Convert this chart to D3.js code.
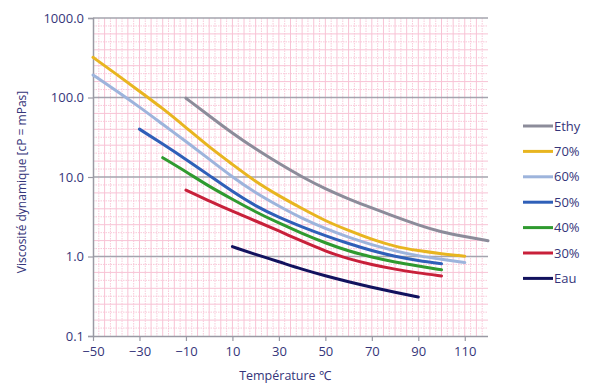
<!DOCTYPE html>
<html><head><meta charset="utf-8">
<script src="https://cdn.jsdelivr.net/npm/d3@7"></script>
<style>body{margin:0;background:#fff}svg{display:block}</style>
</head><body>
<svg id="c" width="591" height="383"></svg>
<script>
const yTicks = [0.1, 1, 10, 100, 1000];
const xTicks = [-50, -30, -10, 10, 30, 50, 70, 90, 110];
const seriesNames = ["Ethy", "70%", "60%", "50%", "40%", "30%", "Eau"];
const seriesColors = ["#8c8c9a", "#e8b520", "#9db4dc", "#2f5fb8", "#2f9a2f", "#c8203a", "#12125e"];
const tEthy = [-10,0,10,20,30,40,50,60,70,80,90,100,110,120];
const vEthy = [98,59,35.5,22.5,14.8,10,7.08,5.3,4.07,3.16,2.48,2.02,1.78,1.58];
const t70 = [-50,-40,-30,-20,-10,0,10,20,30,40,50,60,70,80,90,100,110];
const v70 = [320,197,120,73,42,23.8,14.4,8.7,5.8,4.0,2.8,2.12,1.64,1.33,1.18,1.08,1.01];
const t60 = [-50,-40,-30,-20,-10,0,10,20,30,40,50,60,70,80,90,100,110];
const v60 = [192,122,76,46,28,16.8,10,6.3,4.3,3.0,2.24,1.74,1.4,1.17,1.02,0.92,0.84];
const t50 = [-30,-20,-10,0,10,20,30,40,50,60,70,80,90,100];
const v50 = [40,26,16.7,10.5,6.55,4.3,3.1,2.35,1.82,1.45,1.18,1.0,0.89,0.81];
const t40 = [-20,-10,0,10,20,30,40,50,60,70,80,90,100];
const v40 = [17.5,11.7,7.6,5.25,3.63,2.63,1.95,1.48,1.17,0.98,0.85,0.76,0.68];
const t30 = [-10,0,10,20,30,40,50,60,70,80,90,100];
const v30 = [6.85,5.0,3.7,2.8,2.1,1.55,1.17,0.93,0.79,0.69,0.62,0.57];
const tEau = [10,20,30,40,50,60,70,80,90];
const vEau = [1.33,1.06,0.86,0.69,0.57,0.48,0.41,0.355,0.31];

const allT = [tEthy, t70, t60, t50, t40, t30, tEau];
const allV = [vEthy, v70, v60, v50, v40, v30, vEau];

const L = 93, R = 488, T = 18, B = 336;
const svg = d3.select("#c");
const x = d3.scaleLinear().domain([-50, 120]).range([L, R]);
const y = d3.scaleLog().domain([0.1, 1000]).range([B, T]);
const font = "'Open Sans', sans-serif";
const txt = "#35357a";

// pink minor grid
const g = svg.append("g");
for (let t = -47.5, i = 1; t < 120; t += 2.5, i++) {
  g.append("line").attr("x1", x(t)).attr("x2", x(t)).attr("y1", T).attr("y2", B)
    .attr("stroke", "#f8c3d5").attr("stroke-width", i % 2 === 0 ? 1 : 0.9)
    .attr("stroke-dasharray", i % 2 === 0 ? null : "1.5,1");
}
for (let d = -1; d < 3; d++) {
  for (let k = 1; k < 10; k++) {
    const yy = y(Math.pow(10, d + k / 10));
    g.append("line").attr("x1", L).attr("x2", R).attr("y1", yy).attr("y2", yy)
      .attr("stroke", "#f8c3d5").attr("stroke-width", k % 2 === 0 ? 1 : 0.9)
      .attr("stroke-dasharray", k % 2 === 0 ? null : "1.5,1");
  }
}
// major horizontal grid
yTicks.slice(1).forEach(v => {
  g.append("line").attr("x1", L).attr("x2", R).attr("y1", y(v)).attr("y2", y(v))
    .attr("stroke", "#a4a4ae").attr("stroke-width", 1.5);
});

// axes
const ya = svg.append("g").attr("transform", `translate(${L},0)`)
  .call(d3.axisLeft(y).tickValues(yTicks).tickFormat(d3.format(".1f")).tickSize(5).tickPadding(4));
const xa = svg.append("g").attr("transform", `translate(0,${B})`)
  .call(d3.axisBottom(x).tickValues(xTicks).tickSize(5).tickPadding(6));
[ya, xa].forEach(a => {
  a.selectAll("path").attr("stroke", "#9a9aa4").attr("stroke-width", 1.5);
  a.selectAll("line").attr("stroke", "#9a9aa4").attr("stroke-width", 1.2);
  a.selectAll("text").attr("fill", txt).style("font-family", font).style("font-size", "13px");
});
xa.select("path").attr("d", `M${L},0.5H${R}`);

// lines
const line = d3.line().x(d => x(d[0])).y(d => y(d[1])).curve(d3.curveBasis);
seriesNames.forEach((n, i) => {
  const data = allT[i].map((t, j) => [t, allV[i][j]]);
  svg.append("path").datum(data).attr("d", line).attr("fill", "none")
    .attr("stroke", seriesColors[i]).attr("stroke-width", 3).attr("stroke-linecap", "round");
});

// titles
svg.append("text").attr("x", 285).attr("y", 380).attr("text-anchor", "middle")
  .attr("fill", txt).style("font-family", font).style("font-size", "12.5px").text("Température ℃");
svg.append("text").attr("transform", "translate(26,182) rotate(-90)").attr("text-anchor", "middle")
  .attr("fill", txt).style("font-family", font).style("font-size", "12px").text("Viscosité dynamique [cP = mPas]");

// legend
seriesNames.forEach((n, i) => {
  const ly = 126 + i * 25.4;
  svg.append("line").attr("x1", 523).attr("x2", 553).attr("y1", ly).attr("y2", ly)
    .attr("stroke", seriesColors[i]).attr("stroke-width", 3);
  svg.append("text").attr("x", 554).attr("y", ly + 4.5).attr("fill", txt)
    .style("font-family", font).style("font-size", "13px").text(n);
});
</script>
</body></html>
